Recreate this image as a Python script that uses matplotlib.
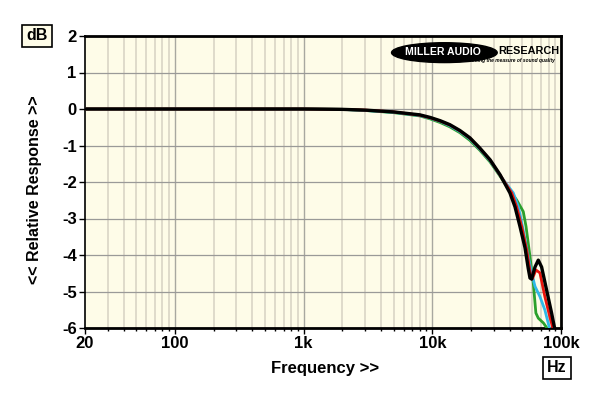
import numpy as np
import matplotlib.pyplot as plt
from matplotlib.patches import Ellipse
from matplotlib.ticker import FixedLocator, NullFormatter

# frequency response data (Hz, dB)
black_f = [20, 1000, 2000, 3000, 5000, 8000, 9600, 11500, 13700, 16400, 19600,
           23400, 28100, 33600, 40100, 43900, 48000, 52500, 55600, 57400, 59100,
           62800, 66600, 70700, 77300, 84500, 89700, 100000]
black_db = [0, 0, -0.01, -0.03, -0.08, -0.16, -0.23, -0.32, -0.43, -0.59, -0.79,
            -1.07, -1.39, -1.8, -2.3, -2.68, -3.22, -3.8, -4.36, -4.63, -4.66,
            -4.33, -4.14, -4.33, -4.96, -5.59, -6.05, -6.6]

red_f = [20, 1000, 2000, 3000, 5000, 8000, 9600, 11500, 13700, 16400, 19600,
         23400, 28100, 33600, 41400, 45200, 49500, 54100, 58100, 59800, 63800,
         68600, 75000, 82000, 87100, 100000]
red_db = [0, 0, -0.01, -0.03, -0.08, -0.17, -0.24, -0.33, -0.44, -0.6, -0.8,
          -1.08, -1.4, -1.81, -2.3, -2.68, -3.22, -3.86, -4.55, -4.66, -4.41,
          -4.49, -5.15, -5.7, -6.05, -6.7]

cyan_f = [20, 1000, 2000, 3000, 5000, 8000, 9600, 11500, 13700, 16400, 19600,
          23400, 28100, 33600, 42600, 46600, 50900, 55600, 59100, 62800, 68600,
          75000, 82000, 100000]
cyan_db = [0, 0, -0.01, -0.04, -0.09, -0.18, -0.25, -0.34, -0.46, -0.62, -0.82,
           -1.1, -1.42, -1.82, -2.3, -2.68, -3.32, -4.04, -4.49, -4.86, -5.14,
           -5.51, -6.05, -7.0]

green_f = [20, 1000, 2000, 3000, 5000, 8000, 9600, 11500, 13700, 16400, 19600,
           23400, 28100, 33600, 38000, 45200, 50900, 53500, 57400, 60900, 63800,
           66600, 72900, 79600, 100000]
green_db = [0, 0, -0.01, -0.04, -0.1, -0.19, -0.27, -0.37, -0.49, -0.65, -0.86,
            -1.13, -1.45, -1.84, -2.12, -2.49, -2.81, -3.22, -4.04, -4.77, -5.59,
            -5.73, -5.86, -6.05, -6.3]

xticks = [20, 100, 1000, 10000, 100000]
xticklabels = ['20', '100', '1k', '10k', '100k']
yticks = [2, 1, 0, -1, -2, -3, -4, -5, -6]

plt.rcParams['font.family'] = ['Liberation Sans', 'DejaVu Sans']
plt.rcParams['font.weight'] = 'bold'

fig = plt.figure(figsize=(6, 3.98), dpi=100)
ax = fig.add_axes([85 / 600, 1 - 328 / 398, 476 / 600, 292 / 398])
ax.set_facecolor('#fefce8')
ax.set_xscale('log')
ax.set_xlim(20, 100000)
ax.set_ylim(-6, 2)

# grid lines
minor = [m * 10 ** d for d in range(1, 5) for m in range(2, 10)]
minor = [v for v in minor if v > 20]
for v in minor:
    ax.axvline(v, color='#dcd8c8', lw=1.3, zorder=1)
for v in [100, 1000, 10000]:
    ax.axvline(v, color='#a8a8a0', lw=1.0, zorder=1)
for v in yticks:
    ax.axhline(v, color='#9a9a98', lw=0.9, zorder=1)

kw = dict(solid_joinstyle='round', solid_capstyle='round')
ax.plot(green_f, green_db, color='#2ca02c', lw=2.0, zorder=3, **kw)
ax.plot(cyan_f, cyan_db, color='#2fb8e8', lw=2.0, zorder=4, **kw)
ax.plot(red_f, red_db, color='#e8120c', lw=2.0, zorder=5, **kw)
ax.plot(black_f, black_db, color='black', lw=2.4, zorder=6, **kw)

ax.xaxis.set_major_locator(FixedLocator(xticks))
ax.set_xticklabels(xticklabels)
ax.xaxis.set_minor_locator(FixedLocator(minor))
ax.xaxis.set_minor_formatter(NullFormatter())
ax.set_yticks(yticks)
ax.set_yticklabels([str(v) for v in yticks])
ax.tick_params(axis='both', which='major', labelsize=12, length=4, width=1, pad=2)
ax.tick_params(axis='x', which='minor', length=2.5, width=1)
for lab in ax.get_xticklabels() + ax.get_yticklabels():
    lab.set_fontweight('bold')

for s in ['top', 'right', 'bottom']:
    ax.spines[s].set_linewidth(2)
ax.spines['left'].set_linewidth(1.2)

# logo
ax.add_patch(Ellipse((0.755, 0.943), 0.222, 0.068, transform=ax.transAxes,
                     color='black', zorder=7))
ax.text(0.752, 0.945, 'MILLER AUDIO', transform=ax.transAxes, color='white',
        fontsize=7.6, fontweight='heavy', ha='center', va='center', zorder=8)
ax.text(0.868, 0.948, 'RESEARCH', transform=ax.transAxes, color='black',
        fontsize=7.8, fontweight='heavy', ha='left', va='center', zorder=8)
ax.text(0.988, 0.915, 'Getting the measure of sound quality', transform=ax.transAxes,
        color='black', fontsize=3.5, fontstyle='italic', ha='right', va='center', zorder=8)

fig.text(35 / 600, 1 - 190 / 398, '<< Relative Response >>', rotation=90,
         fontsize=11.5, fontweight='bold', ha='center', va='center')
fig.text(325 / 600, 1 - 368 / 398, 'Frequency >>', fontsize=12,
         fontweight='bold', ha='center', va='center')
fig.text(37 / 600, 1 - 36 / 398, 'dB', fontsize=11.5, fontweight='bold',
         ha='center', va='center',
         bbox=dict(boxstyle='square,pad=0.25', fc='#fefce8', ec='black', lw=1.2))
fig.text(557 / 600, 1 - 368 / 398, 'Hz', fontsize=11.5, fontweight='bold',
         ha='center', va='center',
         bbox=dict(boxstyle='square,pad=0.25', fc='white', ec='black', lw=1.2))

fig.savefig('out.png', dpi=100)
